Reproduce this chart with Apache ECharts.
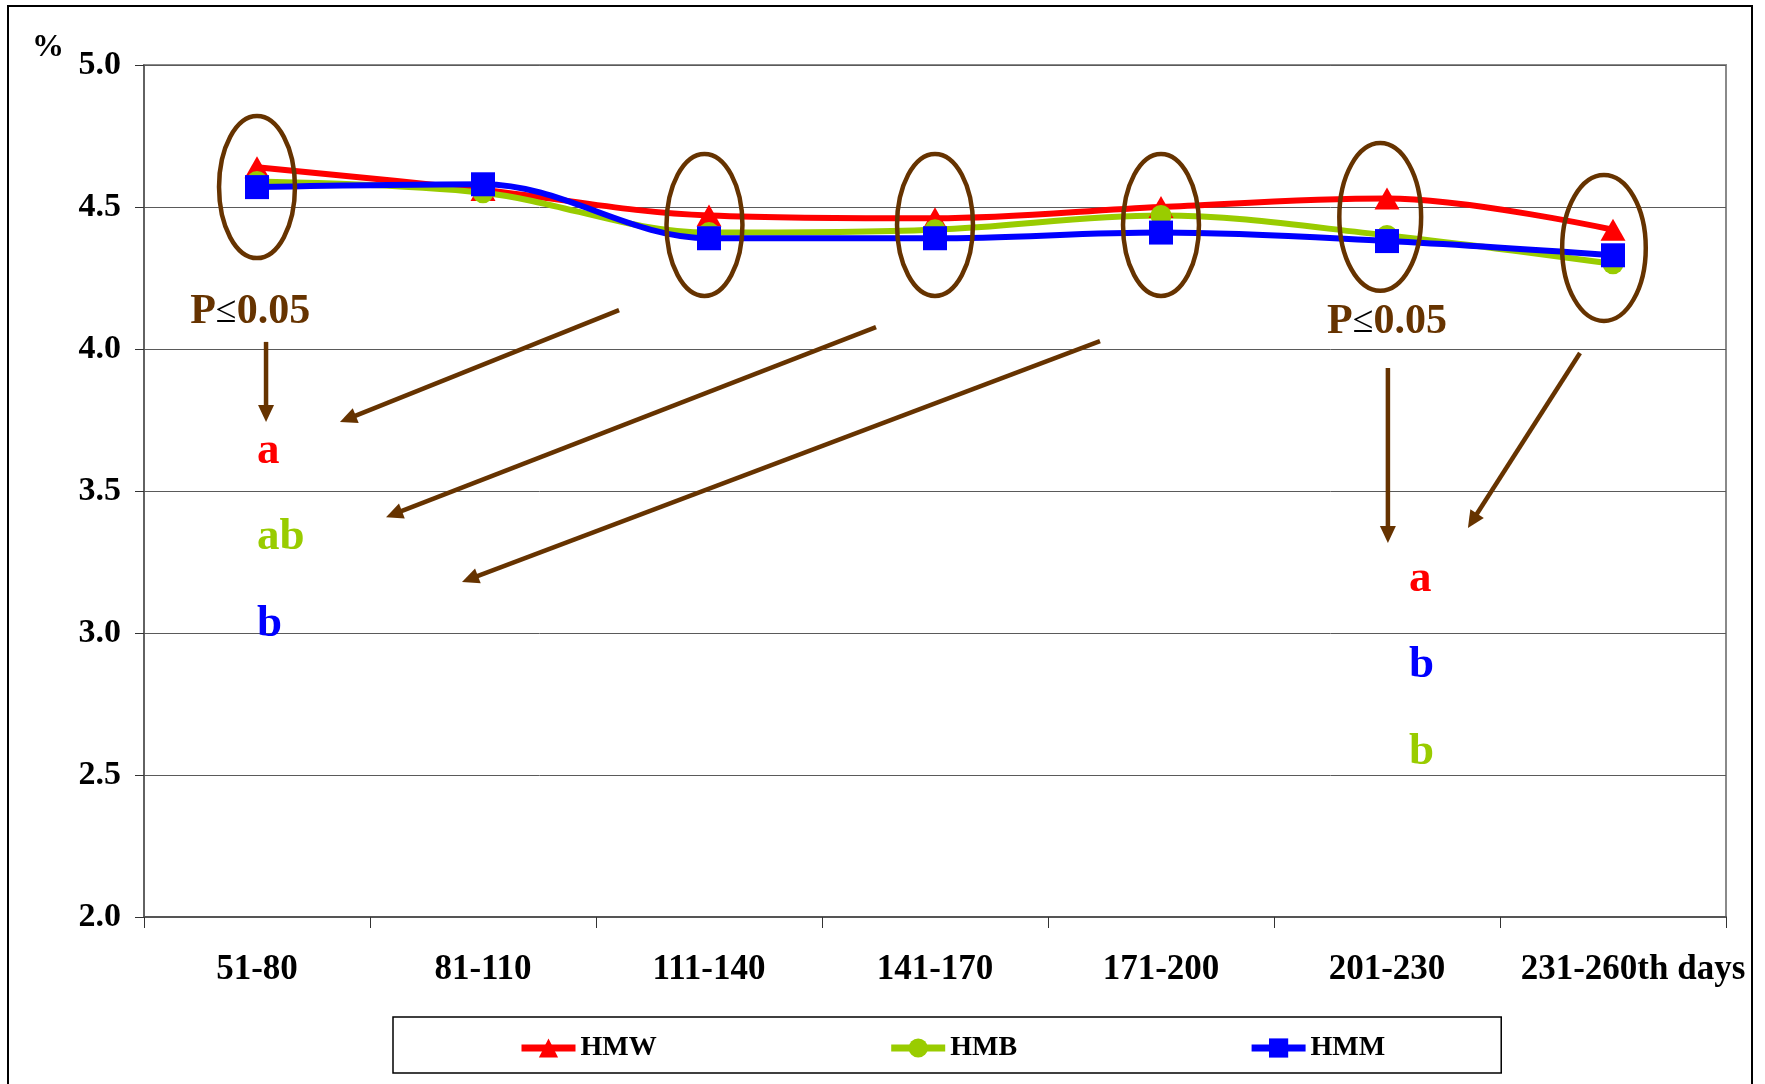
<!DOCTYPE html>
<html>
<head>
<meta charset="utf-8">
<script src="https://cdn.jsdelivr.net/npm/echarts@6/dist/echarts.min.js"></script>
<style>
  html, body { margin: 0; padding: 0; background: #ffffff; }
  #chart { width: 1765px; height: 1084px; }
</style>
</head>
<body>
<div id="chart"></div>
<script>
// Lactation periods (days in milk)
const categories = ['51-80', '81-110', '111-140', '141-170', '171-200', '201-230', '231-260th days'];

// Milk fat content, %
const hmw = [4.64, 4.56, 4.47, 4.46, 4.50, 4.53, 4.42];
const hmb = [4.59, 4.55, 4.41, 4.42, 4.47, 4.40, 4.30];
const hmm = [4.57, 4.58, 4.39, 4.39, 4.41, 4.38, 4.33];

// Value axis
const yMin = 2.0;
const yMax = 5.0;
const yStep = 0.5;

const RED = '#ff0000';
const GREEN = '#99cc00';
const BLUE = '#0000ff';
const BROWN = '#663300';
const FONT = '"Liberation Serif", "Times New Roman", serif';

// Rings around the periods that are discussed (category position, value, radii in category / value units)
const rings = [
  { cat: 0.00, v: 4.570, rx: 0.168, ry: 0.250 },
  { cat: 1.98, v: 4.437, rx: 0.168, ry: 0.250 },
  { cat: 3.00, v: 4.437, rx: 0.168, ry: 0.250 },
  { cat: 4.00, v: 4.437, rx: 0.168, ry: 0.250 },
  { cat: 4.97, v: 4.465, rx: 0.181, ry: 0.260 },
  { cat: 5.96, v: 4.356, rx: 0.185, ry: 0.257 }
];

// Arrows: [fromCat, fromValue, toCat, toValue]
const arrows = [
  [0.040, 4.025, 0.040, 3.743],
  [1.602, 4.137, 0.367, 3.743],
  [2.739, 4.077, 0.571, 3.408],
  [3.730, 4.028, 0.907, 3.180],
  [5.004, 3.933, 5.004, 3.317],
  [5.854, 3.986, 5.358, 3.370]
];

// Significance notes
const pNotes = [
  { cat: -0.030, v: 4.130 },
  { cat: 5.000, v: 4.095 }
];
const lettersEarly = [
  { text: 'a', color: RED, v: 3.641 },
  { text: 'ab', color: GREEN, v: 3.335 },
  { text: 'b', color: BLUE, v: 3.032 }
];
const lettersLate = [
  { text: 'a', color: RED, v: 3.190 },
  { text: 'b', color: BLUE, v: 2.887 },
  { text: 'b', color: GREEN, v: 2.581 }
];
const lettersEarlyCat = 0.000;
const lettersLateCat = 5.097;

const chart = echarts.init(document.getElementById('chart'), null, { renderer: 'canvas' });

function lineSeries(name, data, color, symbol, size) {
  return {
    name: name,
    type: 'line',
    data: data,
    smooth: 0.35,
    symbol: symbol,
    symbolSize: size,
    showAllSymbol: true,
    lineStyle: { color: color, width: 6 },
    itemStyle: { color: color, borderWidth: 0 },
    emphasis: { disabled: true },
    animation: false
  };
}

chart.setOption({
  animation: false,
  backgroundColor: '#ffffff',
  grid: {
    left: 144, right: 39, top: 65, bottom: 167,
    show: true, borderColor: '#8a8a8a', borderWidth: 2, backgroundColor: 'transparent'
  },
  legend: {
    left: 393, top: 1017,
    padding: [17, 116, 11, 125],
    borderColor: '#000000', borderWidth: 1.5,
    itemWidth: 54, itemHeight: 24, itemGap: 231,
    lineStyle: { width: 7 },
    textStyle: { fontFamily: FONT, fontWeight: 'bold', fontSize: 28, color: '#000' },
    data: ['HMW', 'HMB', 'HMM']
  },
  xAxis: {
    type: 'category',
    data: categories,
    boundaryGap: true,
    axisLine: { lineStyle: { color: '#555555', width: 2 } },
    axisTick: { show: true, length: 11, lineStyle: { color: '#333333', width: 1 } },
    axisLabel: {
      margin: 35, fontFamily: FONT, fontWeight: 'bold', fontSize: 35, color: '#000', interval: 0,
      formatter: function (v, i) { return i === categories.length - 1 ? '{last|' + v + '}' : v; },
      rich: { last: { fontFamily: FONT, fontWeight: 'bold', fontSize: 35, color: '#000', padding: [0, 0, 0, 40] } }
    },
    splitLine: { show: false }
  },
  yAxis: {
    type: 'value',
    min: yMin, max: yMax, interval: yStep,
    name: '%',
    nameLocation: 'end',
    nameGap: 1,
    nameTextStyle: { fontFamily: FONT, fontWeight: 'bold', fontSize: 32, color: '#000', align: 'right', padding: [0, 80, 0, 0] },
    axisLine: { show: true, lineStyle: { color: '#555555', width: 1.5 } },
    axisTick: { show: true, length: 9, lineStyle: { color: '#333333', width: 1 } },
    axisLabel: {
      margin: 23, fontFamily: FONT, fontWeight: 'bold', fontSize: 34, color: '#000',
      formatter: function (v) { return v.toFixed(1); }
    },
    splitLine: { lineStyle: { color: '#5a5a5a', width: 1 } }
  },
  series: [
    lineSeries('HMW', hmw, RED, 'triangle', [25, 22]),
    lineSeries('HMB', hmb, GREEN, 'circle', 21),
    lineSeries('HMM', hmm, BLUE, 'rect', 24)
  ]
});

// Map a (fractional category position, value) pair to pixels
function toPx(cat, v) {
  const a = chart.convertToPixel({ gridIndex: 0 }, [0, v]);
  const b = chart.convertToPixel({ gridIndex: 0 }, [1, v]);
  return [a[0] + cat * (b[0] - a[0]), a[1]];
}
function catWidth() {
  const a = chart.convertToPixel({ gridIndex: 0 }, [0, yMin]);
  const b = chart.convertToPixel({ gridIndex: 0 }, [1, yMin]);
  return b[0] - a[0];
}
function valHeight(dv) {
  const a = chart.convertToPixel({ gridIndex: 0 }, [0, yMin]);
  const b = chart.convertToPixel({ gridIndex: 0 }, [0, yMin + dv]);
  return Math.abs(a[1] - b[1]);
}

function buildAnnotations() {
  const g = [];
  const cw = catWidth();

  // outer frame of the figure
  g.push({
    type: 'rect', z: 0, silent: true,
    shape: { x: 8, y: 6, width: 1744, height: 1110 },
    style: { fill: 'none', stroke: '#000000', lineWidth: 2 }
  });

  rings.forEach(function (r) {
    const c = toPx(r.cat, r.v);
    g.push({
      type: 'ellipse', z: 100, silent: true,
      shape: { cx: c[0], cy: c[1], rx: r.rx * cw, ry: valHeight(r.ry) },
      style: { fill: 'none', stroke: BROWN, lineWidth: 4.5 }
    });
  });

  arrows.forEach(function (a) {
    const p = toPx(a[0], a[1]);
    const q = toPx(a[2], a[3]);
    const dx = q[0] - p[0], dy = q[1] - p[1];
    const len = Math.sqrt(dx * dx + dy * dy);
    const ux = dx / len, uy = dy / len;
    const headLen = 17, headHalf = 8;
    const bx = q[0] - ux * headLen, by = q[1] - uy * headLen;
    g.push({
      type: 'line', z: 100, silent: true,
      shape: { x1: p[0], y1: p[1], x2: bx + ux * 2, y2: by + uy * 2 },
      style: { stroke: BROWN, lineWidth: 4.5 }
    });
    g.push({
      type: 'polygon', z: 100, silent: true,
      shape: { points: [[q[0], q[1]], [bx - uy * headHalf, by + ux * headHalf], [bx + uy * headHalf, by - ux * headHalf]] },
      style: { fill: BROWN }
    });
  });

  pNotes.forEach(function (n) {
    const c = toPx(n.cat, n.v);
    g.push({
      type: 'text', z: 100, silent: true,
      x: c[0], y: c[1],
      style: {
        text: '{p|P}{s|≤}{p|0.05}',
        align: 'center', verticalAlign: 'middle',
        rich: {
          p: { fontFamily: FONT, fontWeight: 'bold', fontSize: 42, fill: BROWN },
          s: { fontFamily: FONT, fontWeight: 'normal', fontSize: 38, fill: '#000000' }
        }
      }
    });
  });

  function addLetters(list, cat) {
    list.forEach(function (l) {
      const c = toPx(cat, l.v);
      g.push({
        type: 'text', z: 100, silent: true,
        x: c[0], y: c[1],
        style: {
          text: l.text, fill: l.color,
          fontFamily: FONT, fontWeight: 'bold', fontSize: 45,
          align: 'left', verticalAlign: 'middle'
        }
      });
    });
  }
  addLetters(lettersEarly, lettersEarlyCat);
  addLetters(lettersLate, lettersLateCat);

  chart.setOption({ graphic: g });
}

buildAnnotations();
</script>
</body>
</html>
